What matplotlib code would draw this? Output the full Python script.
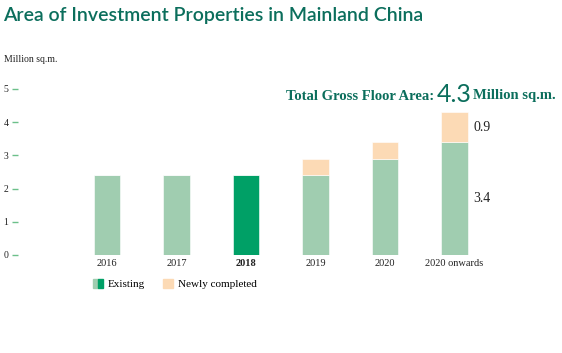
import numpy as np
import matplotlib.pyplot as plt
from matplotlib.patches import Patch
from matplotlib.legend_handler import HandlerTuple

plt.rcParams["font.family"] = "Liberation Serif"
plt.rcParams["font.size"] = 7.5

years = ["2016", "2017", "2018", "2019", "2020", "2020 onwards"]
existing = [2.4, 2.4, 2.4, 2.4, 2.9, 3.4]
newly = [0, 0, 0, 0.5, 0.5, 0.9]
highlight = 2

teal = "#0b6e5c"
light_green = "#a0cdb0"
dark_green = "#00a066"
peach = "#fcdab5"

fig = plt.figure(figsize=(5.62, 3.53), dpi=100)
W, H = 562, 353
ax = fig.add_axes([18 / W, (H - 255) / H, 542 / W, 175 / H])

x = np.arange(len(years))
cols = [dark_green if i == highlight else light_green for i in x]
ax.bar(x, existing, width=0.38, color=cols, edgecolor="white", linewidth=0.4)
ax.bar(x, newly, bottom=existing, width=0.38, color=peach, edgecolor="white", linewidth=0.4)

ax.set_xlim((18 - 107) / 69.5, (560 - 107) / 69.5)
ax.set_ylim(0, 175 / 33.2)
ax.set_yticks(range(6))
ax.set_xticks(x)
ax.set_xticklabels(years, fontsize=7.5, color="#222222")
ax.get_xticklabels()[highlight].set_fontweight("bold")
ax.tick_params(axis="x", length=0, pad=3)
ax.tick_params(axis="y", length=4, width=1, color="#6cc08a", pad=3, labelsize=7, labelcolor="#222222")
for s in ax.spines.values():
    s.set_visible(False)

# segment labels for last bar
last = len(years) - 1
ax.text(last + 0.27, existing[last] + newly[last] / 2, f"{newly[last]}", va="center", ha="left", fontsize=10, color="#222222")
ax.text(last + 0.27, existing[last] / 2, f"{existing[last]}", va="center", ha="left", fontsize=10, color="#222222")

fig.text(3 / W, 1 - 15 / H, "Area of Investment Properties in Mainland China", fontsize=14,
         family="Lato", fontweight="semibold", color=teal, va="center", ha="left")
fig.text(4 / W, 1 - 60 / H, "Million sq.m.", fontsize=7, color="#222222", va="center")

total = existing[last] + newly[last]
fig.text(434 / W, 1 - 96 / H, "Total Gross Floor Area:", fontsize=10.5, fontweight="bold",
         color=teal, ha="right", va="center")
fig.text(437 / W, 1 - 95 / H, f"{total:.1f}", fontsize=18, family="Lato", color=teal, ha="left", va="center")
fig.text(473 / W, 1 - 96 / H, "Million sq.m.", fontsize=10.5, fontweight="bold",
         color=teal, ha="left", va="center")

h_exist = (Patch(color=light_green), Patch(color=dark_green))
h_new = Patch(color=peach)
fig.legend([h_exist, h_new], ["Existing", "Newly completed"],
           handler_map={tuple: HandlerTuple(ndivide=None, pad=0)},
           loc="center left", bbox_to_anchor=(93 / W, 1 - 284 / H), ncol=2, frameon=False,
           borderpad=0, borderaxespad=0,
           fontsize=8, handlelength=0.9, handleheight=0.9, handletextpad=0.45, columnspacing=1.6)

fig.savefig("out.png", dpi=100)
